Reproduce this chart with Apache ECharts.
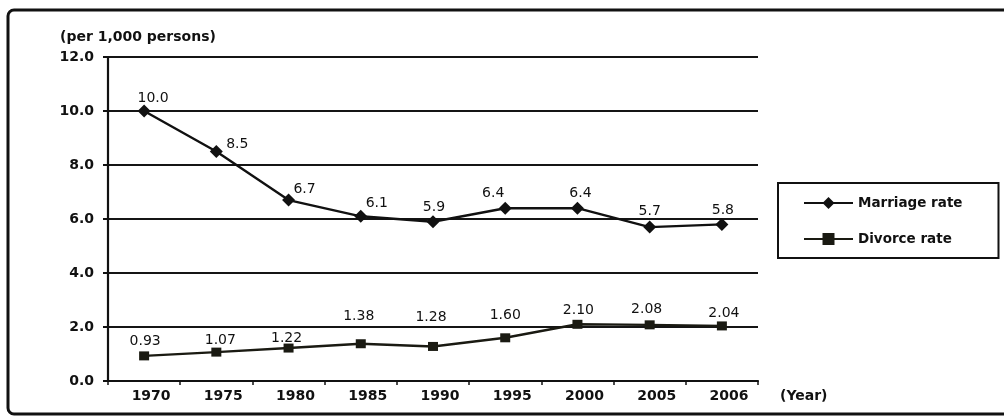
<!DOCTYPE html>
<html><head><meta charset="utf-8">
<script src="https://cdn.jsdelivr.net/npm/echarts@6/dist/echarts.min.js"></script>
<style>html,body{margin:0;padding:0;background:#fff}#c{width:1004px;height:420px}</style>
</head><body><div id="c"></div>
<script>
// ---- data ----
const years = ['1970', '1975', '1980', '1985', '1990', '1995', '2000', '2005', '2006'];
const marriageRate = [10.0, 8.5, 6.7, 6.1, 5.9, 6.4, 6.4, 5.7, 5.8];
const divorceRate = [0.93, 1.07, 1.22, 1.38, 1.28, 1.60, 2.10, 2.08, 2.04];
const yMin = 0, yMax = 12, yStep = 2;
const unitLabel = '(per 1,000 persons)';
const xUnitLabel = '(Year)';
const seriesNames = ['Marriage rate', 'Divorce rate'];

// ---- label placement (styling, not data) ----
const marriageLabelOffset = [[9,-13],[21,-7],[16,-11],[16,-13],[1,-14],[-12,-15],[3,-15],[0,-16],[1,-14]];
const divorceLabelOffset = [[1,-15],[4,-12],[-2,-10],[-2,-27],[-2,-29],[0,-22],[1,-14],[-3,-15],[2,-13]];

const FONT = 'DejaVu Sans';
const INK = '#111';

const chart = echarts.init(document.getElementById('c'), null, {renderer: 'canvas'});
chart.setOption({
  backgroundColor: '#fff',
  animation: false,
  grid: {left: 108, right: 246, top: 57, bottom: 39, containLabel: false},
  xAxis: {
    type: 'category',
    data: years,
    boundaryGap: true,
    axisLine: {lineStyle: {color: INK, width: 2.2}},
    axisTick: {show: true, length: 4, lineStyle: {color: INK, width: 1.5}},
    axisLabel: {color: INK, fontFamily: FONT, fontWeight: 'bold', fontSize: 14, margin: 8, padding: [0,0,0,14]},
    splitLine: {show: false}
  },
  yAxis: {
    type: 'value',
    min: yMin, max: yMax, interval: yStep,
    axisLine: {show: true, lineStyle: {color: INK, width: 2.2}},
    axisTick: {show: true, length: 5, lineStyle: {color: INK, width: 2}},
    axisLabel: {color: INK, fontFamily: FONT, fontWeight: 'bold', fontSize: 14, margin: 14,
      formatter: v => v.toFixed(1)},
    splitLine: {show: true, lineStyle: {color: '#151515', width: 2}}
  },
  legend: {
    orient: 'vertical',
    left: 778, top: 183,
    padding: [13, 36, 12, 25],
    itemWidth: 49, itemHeight: 15, itemGap: 22,
    borderColor: INK, borderWidth: 2,
    textStyle: {color: INK, fontFamily: FONT, fontWeight: 'bold', fontSize: 13.5},
    data: seriesNames
  },
  series: [
    {
      name: seriesNames[0], type: 'line',
      data: marriageRate.map((v, i) => ({value: v, label: {offset: marriageLabelOffset[i]}})),
      symbol: 'diamond', symbolSize: [13, 13],
      lineStyle: {color: INK, width: 2.4},
      itemStyle: {color: INK},
      label: {show: true, position: 'inside', color: INK, fontFamily: FONT, fontSize: 14,
        formatter: p => p.value.toFixed(1)},
      z: 3
    },
    {
      name: seriesNames[1], type: 'line',
      data: divorceRate.map((v, i) => ({value: v, label: {offset: divorceLabelOffset[i]}})),
      symbol: 'rect', symbolSize: [10, 9],
      lineStyle: {color: '#1a1a12', width: 2.4},
      itemStyle: {color: '#1a1a12'},
      label: {show: true, position: 'inside', color: INK, fontFamily: FONT, fontSize: 14,
        formatter: p => p.value.toFixed(2)},
      z: 3
    }
  ],
  graphic: [
    {type: 'rect', shape: {x: 8, y: 10, width: 1020, height: 404, r: 6},
      style: {fill: 'none', stroke: INK, lineWidth: 3}, silent: true},
    {type: 'text', left: 60, top: 30,
      style: {text: unitLabel, fill: INK, font: 'bold 14px "DejaVu Sans"'}},
    {type: 'text', left: 780, top: 389,
      style: {text: xUnitLabel, fill: INK, font: 'bold 14px "DejaVu Sans"'}}
  ]
});
</script></body></html>
